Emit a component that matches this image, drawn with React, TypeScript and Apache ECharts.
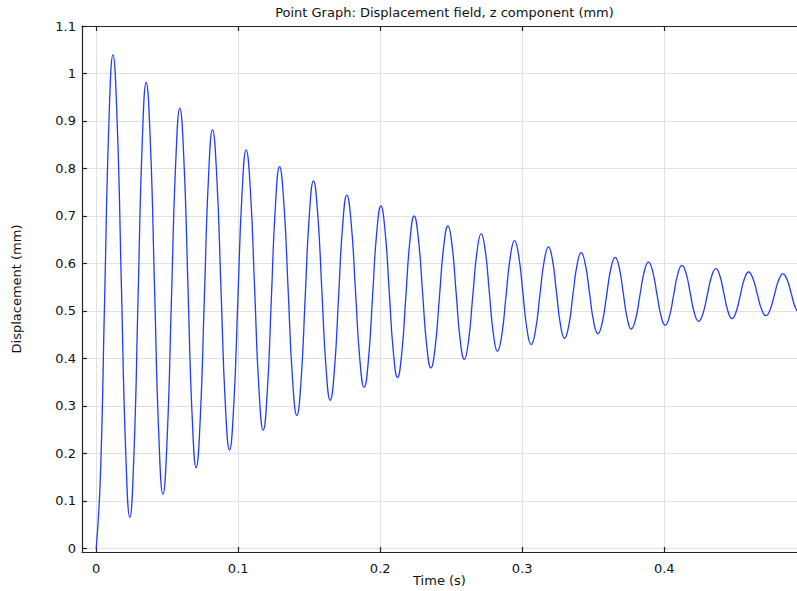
import React, { useEffect, useRef } from "react";
import * as echarts from "echarts";

const titleText = "Point Graph: Displacement field, z component (mm)";
const xAxisTitle = "Time (s)";
const yAxisTitle = "Displacement (mm)";

const xTicks = [0, 0.1, 0.2, 0.3, 0.4];
const yTicks = [0, 0.1, 0.2, 0.3, 0.4, 0.5, 0.6, 0.7, 0.8, 0.9, 1, 1.1];

const timeS = [
  0, 0.00295, 0.0059, 0.00885,
  0.0118, 0.01478, 0.01775, 0.02073,
  0.0237, 0.02658, 0.02945, 0.03233,
  0.0352, 0.03815, 0.0411, 0.04405,
  0.047, 0.04998, 0.05295, 0.05593,
  0.0589, 0.06178, 0.06465, 0.06753,
  0.0704, 0.07328, 0.07615, 0.07903,
  0.0819, 0.0849, 0.0879, 0.0909,
  0.0939, 0.09683, 0.09975, 0.10268,
  0.1056, 0.1086, 0.1116, 0.1146,
  0.1176, 0.12048, 0.12335, 0.12623,
  0.1291, 0.13215, 0.1352, 0.13825,
  0.1413, 0.14423, 0.14715, 0.15008,
  0.153, 0.15595, 0.1589, 0.16185,
  0.1648, 0.16773, 0.17065, 0.17358,
  0.1765, 0.17955, 0.1826, 0.18565,
  0.1887, 0.19165, 0.1946, 0.19755,
  0.2005, 0.20343, 0.20635, 0.20928,
  0.2122, 0.21513, 0.21805, 0.22098,
  0.2239, 0.22685, 0.2298, 0.23275,
  0.2357, 0.2387, 0.2417, 0.2447,
  0.2477, 0.25058, 0.25345, 0.25633,
  0.2592, 0.26218, 0.26515, 0.26813,
  0.2711, 0.27398, 0.27685, 0.27973,
  0.2826, 0.2856, 0.2886, 0.2916,
  0.2946, 0.29753, 0.30045, 0.30338,
  0.3063, 0.30935, 0.3124, 0.31545,
  0.3185, 0.32133, 0.32415, 0.32698,
  0.3298, 0.33273, 0.33565, 0.33858,
  0.3415, 0.34445, 0.3474, 0.35035,
  0.3533, 0.35635, 0.3594, 0.36245,
  0.3655, 0.36833, 0.37115, 0.37398,
  0.3768, 0.37983, 0.38285, 0.38588,
  0.3889, 0.39185, 0.3948, 0.39775,
  0.4007, 0.40365, 0.4066, 0.40955,
  0.4125, 0.41543, 0.41835, 0.42128,
  0.4242, 0.42725, 0.4303, 0.43335,
  0.4364, 0.43923, 0.44205, 0.44488,
  0.4477, 0.45063, 0.45355, 0.45648,
  0.4594, 0.46245, 0.4655, 0.46855,
  0.4716, 0.4746, 0.4776, 0.4806,
  0.4836, 0.48655, 0.4895, 0.49245,
  0.4954,
];

const displacementMm = [
  0, 0.152, 0.52, 0.887,
  1.039, 0.896, 0.552, 0.208,
  0.065, 0.199, 0.523, 0.847,
  0.981, 0.854, 0.5475, 0.241,
  0.114, 0.233, 0.5205, 0.808,
  0.927, 0.816, 0.5485, 0.281,
  0.17, 0.274, 0.526, 0.778,
  0.882, 0.783, 0.5445, 0.306,
  0.207, 0.2995, 0.523, 0.7465,
  0.839, 0.7526, 0.544, 0.3354,
  0.249, 0.33, 0.5265, 0.7227,
  0.804, 0.727, 0.542, 0.357,
  0.28, 0.352, 0.527, 0.702,
  0.774, 0.706, 0.543, 0.38,
  0.312, 0.375, 0.528, 0.681,
  0.744, 0.685, 0.5415, 0.398,
  0.339, 0.395, 0.53, 0.665,
  0.721, 0.668, 0.5405, 0.413,
  0.36, 0.41, 0.53, 0.65,
  0.7, 0.653, 0.54, 0.427,
  0.38, 0.424, 0.5295, 0.635,
  0.679, 0.638, 0.5385, 0.439,
  0.398, 0.437, 0.5305, 0.624,
  0.663, 0.627, 0.539, 0.451,
  0.415, 0.449, 0.5315, 0.614,
  0.648, 0.616, 0.5385, 0.461,
  0.429, 0.459, 0.532, 0.605,
  0.635, 0.607, 0.5385, 0.47,
  0.442, 0.4685, 0.5325, 0.5965,
  0.623, 0.598, 0.5375, 0.477,
  0.452, 0.4756, 0.5325, 0.5894,
  0.613, 0.591, 0.5375, 0.484,
  0.462, 0.4826, 0.5325, 0.5824,
  0.603, 0.5835, 0.5365, 0.4895,
  0.47, 0.4884, 0.533, 0.5776,
  0.596, 0.5787, 0.537, 0.4953,
  0.478, 0.4943, 0.5335, 0.5727,
  0.589, 0.5736, 0.5365, 0.4994,
  0.484, 0.4983, 0.533, 0.5677,
  0.582, 0.5685, 0.536, 0.5035,
  0.49, 0.5029, 0.534, 0.5651,
  0.578, 0.5657, 0.536, 0.5063,
  0.494,
];

const FONT = "DejaVu Sans";
const AXIS_COLOR = "#222";
const GRID_COLOR = "#e2e2e2";

export default function App() {
  const ref = useRef<HTMLDivElement>(null);

  useEffect(() => {
    document.body.style.margin = "0";
    if (!ref.current) return;
    const chart = echarts.init(ref.current, null, { renderer: "svg" });
    const data = timeS.map((t, i) => [t, displacementMm[i]]);
    const xMin = -0.01;
    const xMax = 0.4935;
    const yMin = -0.0075;
    const yMax = 1.1;

    chart.setOption({
      animation: false,
      backgroundColor: "#fff",
      textStyle: { fontFamily: FONT },
      title: {
        text: titleText,
        left: 439.5,
        top: 1,
        textAlign: "center",
        textStyle: { fontFamily: FONT, fontSize: 13, fontWeight: "normal", color: "#111" },
      },
      grid: { left: 82, right: 0, top: 26, bottom: 39, containLabel: false, outerBoundsMode: "none" },
      xAxis: [
        {
          type: "value",
          min: xMin,
          max: xMax,
          position: "bottom",
          name: xAxisTitle,
          nameLocation: "middle",
          nameGap: 22,
          nameMoveOverlap: false,
          nameTextStyle: { fontFamily: FONT, fontSize: 13, color: "#111" },
          axisLine: { show: true, onZero: false, lineStyle: { color: AXIS_COLOR, width: 1.2 } },
          axisTick: { show: true, inside: true, length: 5, customValues: xTicks, lineStyle: { color: AXIS_COLOR, width: 1.2 } },
          axisLabel: {
            show: true,
            customValues: xTicks,
            margin: 10,
            fontFamily: FONT,
            fontSize: 13,
            color: "#111",
            formatter: (v: number) => String(v),
          },
          splitLine: { show: true, lineStyle: { color: GRID_COLOR, width: 1 } },
        },
        {
          type: "value",
          min: xMin,
          max: xMax,
          position: "top",
          axisLine: { show: true, onZero: false, lineStyle: { color: AXIS_COLOR, width: 1.2 } },
          axisTick: { show: true, inside: true, length: 5, customValues: xTicks, lineStyle: { color: AXIS_COLOR, width: 1.2 } },
          axisLabel: { show: false },
          splitLine: { show: false },
        },
      ],
      yAxis: {
        type: "value",
        min: yMin,
        max: yMax,
        name: yAxisTitle,
        nameLocation: "middle",
        nameGap: 59,
        nameRotate: 90,
        nameMoveOverlap: false,
        nameTextStyle: { fontFamily: FONT, fontSize: 13, color: "#111" },
        axisLine: { show: true, onZero: false, lineStyle: { color: AXIS_COLOR, width: 1.2 } },
        axisTick: { show: true, inside: true, length: 5, customValues: yTicks, lineStyle: { color: AXIS_COLOR, width: 1.2 } },
        axisLabel: {
          show: true,
          customValues: yTicks,
          margin: 6,
          fontFamily: FONT,
          fontSize: 13,
          color: "#111",
          formatter: (v: number) => String(v),
        },
        splitLine: { show: true, lineStyle: { color: GRID_COLOR, width: 1 } },
      },
      series: [
        {
          type: "line",
          data,
          xAxisIndex: 0,
          showSymbol: false,
          symbol: "none",
          smooth: 0.5,
          clip: true,
          lineStyle: { color: "#1f3cff", width: 1.3 },
        },
      ],
    });

    return () => chart.dispose();
  }, []);

  return <div ref={ref} style={{ width: 797, height: 591 }} />;
}
